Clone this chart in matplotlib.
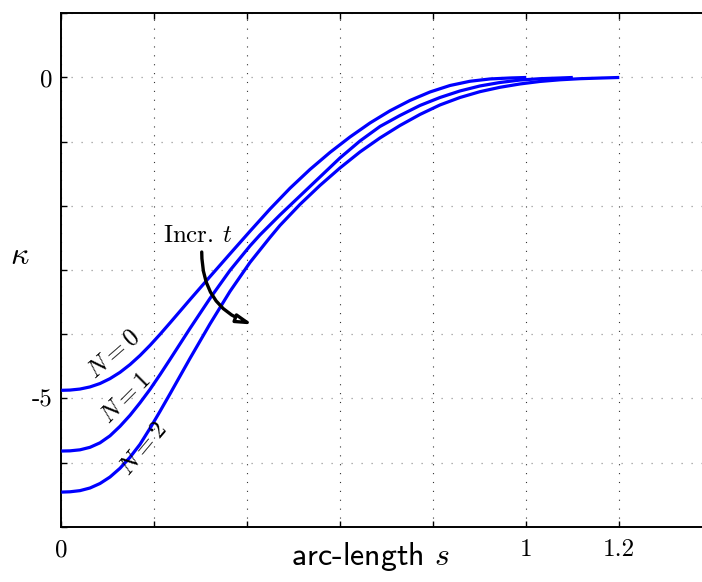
import matplotlib
matplotlib.use("Agg")
import matplotlib.pyplot as plt
from matplotlib.ticker import FixedLocator, FixedFormatter

plt.rcParams['mathtext.fontset'] = 'cm'

# ---- data ----
s_N0 = [0, 0.0187, 0.0402, 0.0617, 0.0832, 0.1047, 0.1262, 0.1477, 0.1692, 0.1908,
        0.2123, 0.2338, 0.2768, 0.3198, 0.3628, 0.4058, 0.4488, 0.4918, 0.5348,
        0.5778, 0.6209, 0.6639, 0.7069, 0.7499, 0.7929, 0.8359, 0.8789, 0.9219,
        0.9649, 1.0]
k_N0 = [-4.875, -4.871, -4.855, -4.822, -4.769, -4.693, -4.595, -4.474, -4.333, -4.174,
        -4.003, -3.824, -3.461, -3.103, -2.748, -2.396, -2.050, -1.726, -1.433,
        -1.168, -0.927, -0.709, -0.519, -0.358, -0.226, -0.125, -0.059, -0.023,
        -0.008, 0.0]

s_N1 = [0, 0.0187, 0.0402, 0.0617, 0.0832, 0.1047, 0.1262, 0.1477, 0.1692, 0.1908,
        0.2123, 0.2338, 0.2768, 0.3198, 0.3628, 0.4058, 0.4273, 0.4703, 0.5133,
        0.5563, 0.5993, 0.6424, 0.6854, 0.7284, 0.7714, 0.8144, 0.8574, 0.9004,
        0.9434, 0.9865, 1.0295, 1.0725, 1.1]
k_N1 = [-5.821, -5.818, -5.802, -5.763, -5.693, -5.584, -5.436, -5.265, -5.070, -4.860,
        -4.631, -4.393, -3.910, -3.442, -3.006, -2.625, -2.453, -2.142, -1.846,
        -1.550, -1.254, -0.989, -0.763, -0.592, -0.436, -0.312, -0.210, -0.132,
        -0.078, -0.040, -0.019, -0.008, 0.0]

s_N2 = [0, 0.0187, 0.0402, 0.0617, 0.0832, 0.1047, 0.1262, 0.1477, 0.1692, 0.1908,
        0.2123, 0.2338, 0.2768, 0.3198, 0.3628, 0.4058, 0.4488, 0.4703, 0.5133,
        0.5563, 0.5993, 0.6424, 0.6854, 0.7284, 0.7714, 0.8144, 0.8574, 0.9004,
        0.9434, 0.9865, 1.0295, 1.0725, 1.1155, 1.1585, 1.2]
k_N2 = [-6.461, -6.456, -6.438, -6.397, -6.327, -6.226, -6.090, -5.919, -5.717, -5.467,
        -5.202, -4.930, -4.377, -3.840, -3.333, -2.882, -2.492, -2.305, -1.978,
        -1.682, -1.410, -1.160, -0.942, -0.748, -0.576, -0.428, -0.312, -0.221,
        -0.153, -0.101, -0.062, -0.036, -0.019, -0.009, 0.0]

x_ticks = [0, 0.2, 0.4, 0.6, 0.8, 1.0, 1.2, 1.4]
x_ticklabels = ['0', '', '', '', '', '1', '1.2', '']
y_ticks = [-7, -6, -5, -4, -3, -2, -1, 0, 1]
y_ticklabels = ['', '', '-5', '', '', '', '', '0', '']

curve_labels = [r'$N=0$', r'$N=1$', r'$N=2$']

# ---- figure ----
W, H = 702, 582
fig = plt.figure(figsize=(W / 100, H / 100), dpi=100)
left, right_px, top, bottom = 61.3, 61.3 + 1.4 * 465, 13.3, 526.7
ax = fig.add_axes([left / W, (H - bottom) / H, (right_px - left) / W, (bottom - top) / H])

for s, k in [(s_N0, k_N0), (s_N1, k_N1), (s_N2, k_N2)]:
    ax.plot(s, k, color='#0000ff', lw=2.3, solid_capstyle='butt',
            solid_joinstyle='round', zorder=3)

ax.set_xlim(0, 1.4)
ax.set_ylim(-7, 1)

ax.xaxis.set_major_locator(FixedLocator(x_ticks))
ax.xaxis.set_major_formatter(FixedFormatter(x_ticklabels))
ax.yaxis.set_major_locator(FixedLocator(y_ticks))
ax.yaxis.set_major_formatter(FixedFormatter(y_ticklabels))

ax.tick_params(direction='in', length=4, width=1.0, top=True, right=True,
               labelsize=18)
ax.tick_params(axis='x', pad=9)
ax.tick_params(axis='y', pad=6)
for lab in ax.get_xticklabels() + ax.get_yticklabels():
    lab.set_fontfamily('cmr10')

for sp in ax.spines.values():
    sp.set_linewidth(1.4)

ax.xaxis.grid(True, color='#333333', linestyle=(0, (1, 7)), lw=0.8)
ax.yaxis.grid(True, color='#999999', linestyle=(0, (1, 7)), lw=0.9)
ax.set_axisbelow(True)

# axis labels
fig.text(371 / W, (H - 565) / H, r'arc-length $s$', family='cmss10', fontsize=23,
         ha='center', va='baseline')
fig.text(20 / W, (H - 256) / H, r'$\kappa$', fontsize=23, ha='center', va='center')

# curve labels
label_pos = [(0.112, -4.30, 41), (0.137, -5.00, 45), (0.176, -5.78, 50)]
for txt, (xs, yk, rot) in zip(curve_labels, label_pos):
    ax.text(xs, yk, txt, fontsize=18, rotation=rot, rotation_mode='anchor',
            ha='center', va='center')

# annotation
ax.text(0.219, -2.565, r'Incr. $t$', family='cmr10', fontsize=18,
        ha='left', va='baseline')
ax.annotate('', xy=(0.412, -3.85), xytext=(0.302, -2.72),
            arrowprops=dict(arrowstyle='-|>,head_length=0.9,head_width=0.25',
                            connectionstyle='arc3,rad=0.35', lw=2.4,
                            color='black', fc='white', shrinkA=0, shrinkB=0))

fig.savefig('out.png', dpi=100)
